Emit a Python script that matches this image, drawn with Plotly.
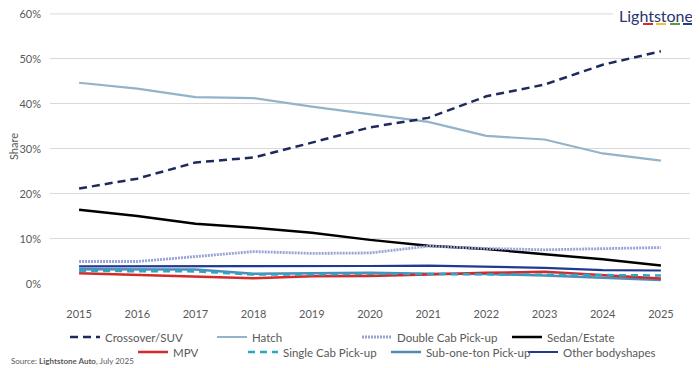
import plotly.graph_objects as go

years = ["2015", "2016", "2017", "2018", "2019", "2020", "2021", "2022", "2023", "2024", "2025"]

crossover_suv = [21.2, 23.4, 27.0, 28.1, 31.4, 34.8, 36.9, 41.7, 44.3, 48.7, 51.7]
hatch = [44.7, 43.4, 41.5, 41.3, 39.4, 37.7, 36.0, 32.9, 32.1, 29.0, 27.4]
double_cab = [5.0, 5.0, 6.1, 7.2, 6.8, 6.9, 8.4, 7.9, 7.6, 7.8, 8.1]
sedan_estate = [16.5, 15.1, 13.4, 12.5, 11.4, 9.8, 8.5, 7.8, 6.6, 5.5, 4.1]
mpv = [2.4, 2.0, 1.7, 1.3, 1.7, 1.8, 2.1, 2.5, 2.7, 2.0, 1.2]
single_cab = [2.9, 2.9, 2.8, 2.1, 2.1, 2.3, 2.2, 2.2, 2.1, 1.9, 1.9]
sub_one_ton = [3.3, 3.3, 3.2, 2.3, 2.4, 2.5, 2.3, 2.2, 1.9, 1.4, 0.9]
other_bodyshapes = [3.9, 3.9, 3.9, 3.9, 3.9, 4.0, 4.1, 3.9, 3.6, 3.1, 3.0]

y_ticks = [0, 10, 20, 30, 40, 50, 60]
y_tick_labels = ["0%", "10%", "20%", "30%", "40%", "50%", "60%"]

FONT = "Lato"
GREY = "#595959"

# page body has an 8px margin: the figure is drawn at (8, 8) in the window
OFF = 8
W, H = 700 - OFF, 368 - OFF
L, R, T, B = 50 - OFF, 10, 5, 84
PW, PH = W - L - R, H - T - B


def cx(px):
    return (px - OFF) / W


def cy(py):
    return 1 - (py - OFF) / H


def px_x(px):
    return (px - OFF - L) / PW


def px_y(py):
    return (H - B - (py - OFF)) / PH


series = [
    ("Crossover/SUV", crossover_suv, dict(color="#1F2A5C", width=2.5, dash="8px,5px"), "legend", 70, 337),
    ("Hatch", hatch, dict(color="#93B3C8", width=2.2), "legend2", 217, 337),
    ("Double Cab Pick-up", double_cab, dict(color="#97A4D4", width=2.8, dash="2px,1px"), "legend3", 362, 337),
    ("Sedan/Estate", sedan_estate, dict(color="#000000", width=2.5), "legend4", 512, 337),
    ("MPV", mpv, dict(color="#D42A2A", width=2.5), "legend5", 138, 352),
    ("Single Cab Pick-up", single_cab, dict(color="#2BA6C4", width=2.5, dash="7px,5px"), "legend6", 248, 352),
    ("Sub-one-ton Pick-up", sub_one_ton, dict(color="#4E8DB8", width=2.5), "legend7", 391, 352),
    ("Other bodyshapes", other_bodyshapes, dict(color="#1F3A93", width=2.2), "legend8", 528, 352),
]

order = [1, 0, 3, 2, 7, 6, 4, 5]

fig = go.Figure()
for i in order:
    name, vals, line, leg, _, _ = series[i]
    fig.add_trace(go.Scatter(
        x=years, y=vals, name=name, mode="lines", line=line,
        legend=leg, hoverinfo="skip",
    ))

layout_legends = {}
for name, vals, line, leg, lx, ly in series:
    layout_legends[leg] = dict(
        xref="container", yref="container",
        x=cx(lx - 5), xanchor="left",
        y=cy(ly), yanchor="middle",
        orientation="h",
        bgcolor="rgba(0,0,0,0)",
        font=dict(family=FONT, size=11.5, color=GREY),
        itemwidth=30,
        tracegroupgap=0,
    )

fig.update_layout(
    width=W, height=H,
    margin=dict(l=L, r=R, t=T, b=B, autoexpand=False),
    paper_bgcolor="white", plot_bgcolor="white",
    font=dict(family=FONT, size=11, color=GREY),
    showlegend=True,
    **layout_legends,
)

fig.update_xaxes(
    type="category", range=[-0.5, 10.5],
    showgrid=False, zeroline=False, showline=False, automargin=False,
    ticks="", ticklabelstandoff=22,
    tickfont=dict(family=FONT, size=11, color=GREY),
)
fig.update_yaxes(
    range=[0, 60.2], tickvals=y_ticks, ticktext=y_tick_labels,
    showgrid=True, gridcolor="#D9D9D9", gridwidth=1, automargin=False,
    zeroline=False, showline=False, ticks="", ticklabelstandoff=8,
    ticklabeloverflow="allow",
    tickfont=dict(family=FONT, size=11, color=GREY),
)

# top gridline (stops short of the logo)
fig.add_shape(type="line", xref="paper", yref="y",
              x0=0, x1=px_x(613), y0=y_ticks[-1], y1=y_ticks[-1],
              line=dict(color="#D9D9D9", width=1), layer="below")

# y axis title
fig.add_annotation(
    xref="paper", yref="paper", x=px_x(13), y=px_y(147),
    xanchor="center", yanchor="middle", textangle=-90,
    text="Share", showarrow=False,
    font=dict(family=FONT, size=11, color=GREY),
)

# Logo text
fig.add_annotation(
    xref="paper", yref="paper", x=px_x(694), y=px_y(16), xanchor="right", yanchor="middle",
    text="Lightstone", showarrow=False, borderpad=0,
    font=dict(family=FONT, size=16, color="#2A3470"),
)
for x0, c in [(643, "#D42A2A"), (656, "#F2C12E"), (670, "#5E9E3A"), (683, "#1F3A93")]:
    fig.add_shape(type="line", xref="paper", yref="paper",
                  x0=px_x(x0), x1=px_x(x0 + 10), y0=px_y(24), y1=px_y(24),
                  line=dict(color=c, width=2))

# Source
fig.add_annotation(
    xref="paper", yref="paper", x=px_x(9), y=px_y(361), xanchor="left", yanchor="middle",
    text="Source: <b>Lightstone Auto</b>, July 2025", showarrow=False,
    font=dict(family=FONT, size=8, color=GREY),
)

fig.write_html("out.html")
